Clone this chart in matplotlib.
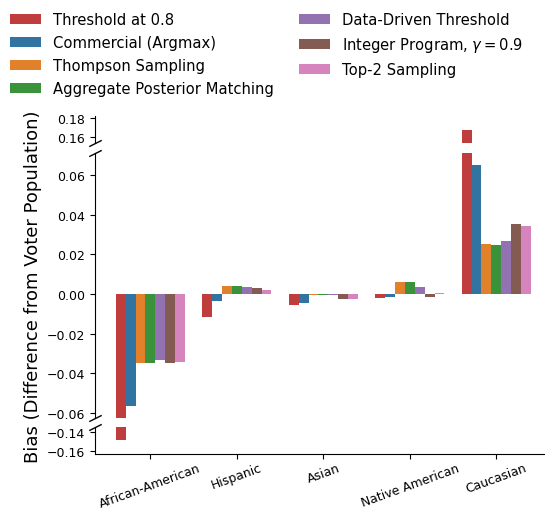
import matplotlib.pyplot as plt
import numpy as np

groups = ["African-American", "Hispanic", "Asian", "Native American", "Caucasian"]
methods = ["Threshold at 0.8", "Commercial (Argmax)", "Thompson Sampling",
           "Aggregate Posterior Matching", "Data-Driven Threshold",
           r"Integer Program, $\gamma=0.9$", "Top-2 Sampling"]
colors = ["#c03d3e", "#3274a1", "#e1812c", "#3a923a", "#9372b2", "#845b53", "#d684bd"]

# bias per method, one value per group
threshold = [-0.1478, -0.0114, -0.0054, -0.0019, 0.1672]
argmax = [-0.0563, -0.0035, -0.0045, -0.0015, 0.0650]
thompson = [-0.0346, 0.0040, -0.0004, 0.0060, 0.0252]
apm = [-0.0346, 0.0040, -0.0004, 0.0060, 0.0247]
data_driven = [-0.0331, 0.0035, -0.0004, 0.0035, 0.0267]
integer_prog = [-0.0346, 0.0030, -0.0024, -0.0014, 0.0353]
top2 = [-0.0341, 0.0020, -0.0024, 0.0005, 0.0343]
values = [threshold, argmax, thompson, apm, data_driven, integer_prog, top2]

fig = plt.figure(figsize=(5.45, 5.1), dpi=100)
ax_top = fig.add_axes([0.1743, 0.7182, 0.83, 0.0529])
ax_mid = fig.add_axes([0.1743, 0.179, 0.83, 0.519])
ax_bot = fig.add_axes([0.1743, 0.1078, 0.83, 0.0529])
axes = [ax_top, ax_mid, ax_bot]

x = np.arange(len(groups))
w = 0.8 / len(methods)
for ax in axes:
    for i, (vals, c, lab) in enumerate(zip(values, colors, methods)):
        ax.bar(x - 0.4 + w * (i + 0.5), vals, width=w, color=c, label=lab, linewidth=0)
    ax.set_xlim(-0.64, 4.59)
    for s in ["top", "right"]:
        ax.spines[s].set_visible(False)
    ax.tick_params(labelsize=9)

yticks = [(ax_top, ax_top.set_ylim(0.1536, 0.1825), [0.16, 0.18]),
          (ax_mid, ax_mid.set_ylim(-0.0624, 0.0711), np.arange(-0.06, 0.061, 0.02)),
          (ax_bot, ax_bot.set_ylim(-0.163, -0.1344), [-0.16, -0.14])]
for ax, _, ticks in yticks:
    ax.set_yticks(ticks)
    ax.set_yticklabels([f"{t:.2f}".replace("-", "\u2212") for t in ticks])

for ax in [ax_top, ax_mid]:
    ax.spines["bottom"].set_visible(False)
    ax.tick_params(bottom=False, labelbottom=False)

ax_bot.set_xticks(x)
ax_bot.set_xticklabels(groups, rotation=20, ha="center", fontsize=8.9)
ax_bot.tick_params(axis="x", pad=1.5)

# diagonal break marks on the left spine
d = 0.5
kw = dict(marker=[(-1, -d), (1, d)], markersize=9, linestyle="none",
          color="k", mec="k", mew=1, clip_on=False)
ax_top.plot([0], [0], transform=ax_top.transAxes, **kw)
ax_mid.plot([0, 0], [0, 1], transform=ax_mid.transAxes, **kw)
ax_bot.plot([0], [1], transform=ax_bot.transAxes, **kw)

fig.text(0.06, 0.437, "Bias (Difference from Voter Population)", rotation=90,
         ha="center", va="center", fontsize=13)

handles, labels = ax_mid.get_legend_handles_labels()
fig.legend(handles, labels, loc="upper left", bbox_to_anchor=(0.0, 0.995), ncol=2,
           frameon=False, fontsize=10.6, handlelength=2.1, handleheight=0.7,
           labelspacing=0.55, columnspacing=1.7, handletextpad=0.8,
           borderaxespad=0.3)

fig.savefig("out.png", dpi=100)
